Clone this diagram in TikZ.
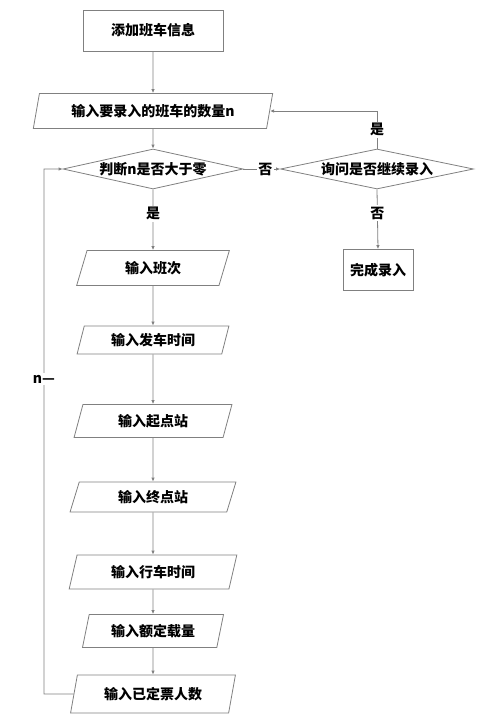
\documentclass[tikz,border=0pt]{standalone}
\usepackage{fontspec}
\setmainfont{Noto Sans CJK SC}
\usepackage{tikz}
\usetikzlibrary{arrows.meta}
\usetikzlibrary{shapes.geometric}

\definecolor{linegray}{RGB}{128,128,128}

\tikzset{
  box/.style={draw=linegray, line width=0.8pt, fill=white, inner sep=0pt,
              font=\fontsize{14}{16}\selectfont\bfseries},
  procbox/.style={box, rectangle},
  iobox/.style={box, trapezium, trapezium left angle=72, trapezium right angle=108,
                trapezium stretches=true},
  decbox/.style={box, diamond, aspect=4.5},
  flow/.style={draw=linegray, line width=0.8pt, -{Latex[length=4pt,width=3.5pt]}},
  lbl/.style={fill=white, inner sep=1.5pt, font=\fontsize{14}{16}\selectfont\bfseries}
}

\begin{document}
\begin{tikzpicture}[x=1pt,y=-1pt]

\useasboundingbox (0,0) rectangle (481,715);

\node [procbox, minimum width=140, minimum height=41] (add) at (153,30.5) {添加班车信息};
\node [iobox, minimum width=240, minimum height=35] (qty) at (153,111) {输入要录入的班车的数量n};
\node [decbox, minimum width=180, minimum height=40] (judge) at (153,169) {判断n是否大于零};
\node [decbox, minimum width=193, minimum height=40] (ask) at (377,169) {询问是否继续录入};
\node [procbox, minimum width=70, minimum height=41] (done) at (378,270) {完成录入};

\node [iobox, minimum width=153, minimum height=35] (banci) at (153,268) {输入班次};
\node [iobox, minimum width=153, minimum height=28] (fache) at (153,340) {输入发车时间};
\node [iobox, minimum width=159, minimum height=33] (qidian) at (153,421) {输入起点站};
\node [iobox, minimum width=166, minimum height=30] (zhongdian) at (153,497) {输入终点站};
\node [iobox, minimum width=169, minimum height=34] (xingche) at (153,572) {输入行车时间};
\node [iobox, minimum width=142, minimum height=33] (zailiang) at (153,631) {输入额定载量};
\node [iobox, minimum width=165, minimum height=38] (renshu) at (153,694) {输入已定票人数};

\coordinate (loopcorner) at (44,694);

\draw [flow] (add) -- (qty);
\draw [flow] (qty) -- (judge);
\draw [flow] (judge.east) -- node [lbl, pos=0.6] {否} (ask.west);
\draw [flow] (ask.north) |- node [lbl, pos=0.25] {是} (qty.east);
\draw [flow] (ask.south) -- node [lbl, pos=0.4] {否} (done.north);
\draw [flow] (judge.south) -- node [lbl, pos=0.4] {是} (banci.north);

\draw [flow] (banci) -- (fache);
\draw [flow] (fache) -- (qidian);
\draw [flow] (qidian) -- (zhongdian);
\draw [flow] (zhongdian) -- (xingche);
\draw [flow] (xingche) -- (zailiang);
\draw [flow] (zailiang) -- (renshu);

\draw [flow] (renshu.west) -- (loopcorner) |- node [lbl, pos=0.3] {n—} (judge.west);

\end{tikzpicture}
\end{document}
